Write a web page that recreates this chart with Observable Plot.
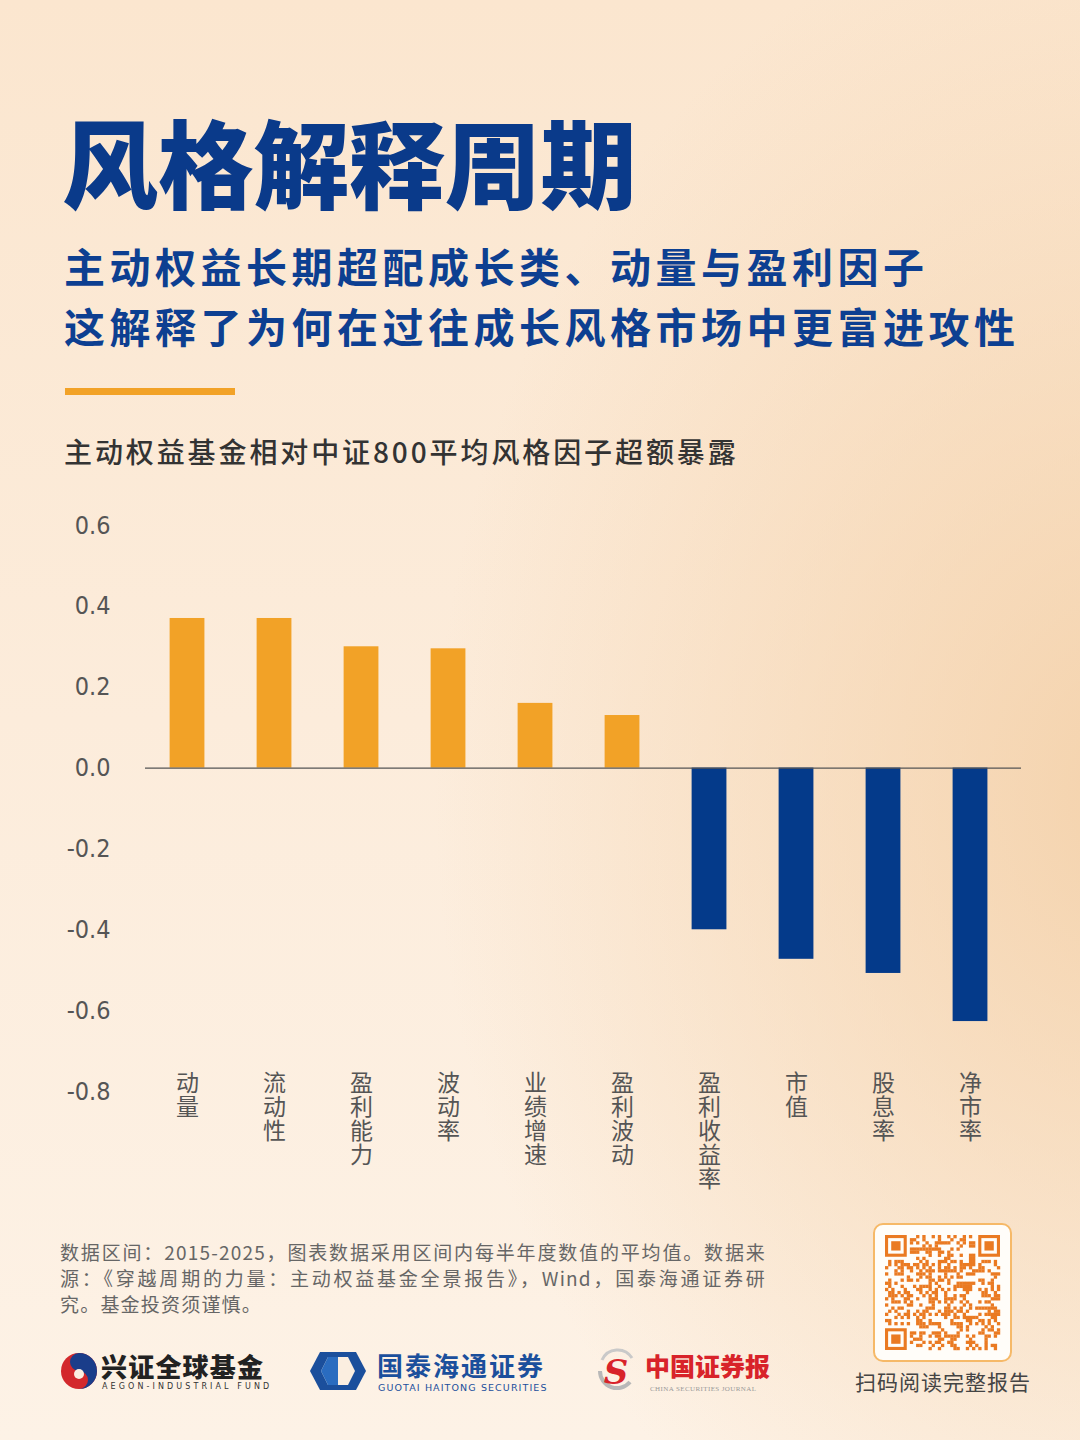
<!DOCTYPE html>
<html>
<head>
<meta charset="utf-8">
<script src="https://cdn.jsdelivr.net/npm/d3@7"></script>
<script src="https://cdn.jsdelivr.net/npm/@observablehq/plot@0.6"></script>
<style>
  html, body { margin: 0; padding: 0; }
  body {
    width: 1080px; height: 1440px; position: relative; overflow: hidden;
    background:
      radial-gradient(ellipse 700px 900px at 105% 55%, rgba(243,206,164,0.85) 0%, rgba(243,206,164,0) 100%),
      linear-gradient(180deg, #fbe6cf 0%, #fcecdb 50%, #fdf2e6 100%);
    font-family: "Noto Sans CJK SC", "Noto Sans", sans-serif;
  }
  .abs { position: absolute; white-space: nowrap; }
  #title { left: 62px; top: 112px; font-size: 96px; line-height: 1; font-weight: 900; color: #0a3a8a; letter-spacing: -0.3px; }
  #subtitle { left: 64px; top: 235px; font-size: 41px; line-height: 60px; font-weight: 700; color: #0d3f91; letter-spacing: 4.5px; }
  #rule { left: 65px; top: 388px; width: 170px; height: 7px; background: #f2a227; }
  #charttitle { left: 64px; top: 433px; font-size: 28px; line-height: 36px; font-weight: 500; color: #333; letter-spacing: 2.9px; }
  #chart { left: 0; top: 500px; }
  #note { left: 60px; top: 1239px; width: 706px; font-size: 19px; line-height: 26px; color: #666; letter-spacing: 1.2px; }
  #note div { text-align: justify; text-align-last: justify; white-space: nowrap; }
  #note div.last { text-align-last: left; }
  #qrbox { left: 873px; top: 1223px; width: 135px; height: 135px; background: #fffdf9; border: 2px solid #f6b968; border-radius: 10px; }
  #qrcap { left: 855px; top: 1366px; font-size: 21px; line-height: 30px; color: #444; letter-spacing: 1px; }
  .logotext { font-weight: 900; font-size: 26px; line-height: 28px; }
  .logosub { font-size: 9px; line-height: 10px; letter-spacing: 2.6px; }
</style>
</head>
<body>
<div id="title" class="abs">风格解释周期</div>
<div id="subtitle" class="abs">主动权益长期超配成长类、动量与盈利因子<br>这解释了为何在过往成长风格市场中更富进攻性</div>
<div id="rule" class="abs"></div>
<div id="charttitle" class="abs">主动权益基金相对中证800平均风格因子超额暴露</div>
<div id="chart" class="abs"></div>
<div id="note" class="abs">
  <div>数据区间：2015-2025，图表数据采用区间内每半年度数值的平均值。数据来</div>
  <div>源：《穿越周期的力量：主动权益基金全景报告》，Wind，国泰海通证券研</div>
  <div class="last">究。基金投资须谨慎。</div>
</div>

<!-- logos -->
<svg class="abs" style="left:58px;top:1350px" width="42" height="42" viewBox="0 0 42 42">
  <circle cx="21" cy="21" r="18" fill="#d3282c"/>
  <path d="M21 3 A18 18 0 0 1 21 39 A9 9 0 0 0 21 21 A9 9 0 0 1 21 3 Z" fill="#1a3d8a"/>
  <circle cx="21" cy="24" r="5" fill="#fbeee0"/>
</svg>
<div class="abs logotext" style="left:101px;top:1352px;color:#222;letter-spacing:1.2px">兴证全球基金</div>
<div class="abs logosub" style="left:102px;top:1382px;color:#333;font-family:'DejaVu Sans';letter-spacing:3.1px;font-size:8px">AEGON-INDUSTRIAL FUND</div>

<svg class="abs" style="left:308px;top:1350px" width="60" height="42" viewBox="0 0 60 42">
  <polygon points="12,2 48,2 58,21 48,40 12,40 2,21" fill="#1b4f9c"/>
  <polygon points="20,7 40,7 47,21 40,35 20,35 13,21" fill="#fbeee0"/>
  <polygon points="20,7 30,7 30,35 20,35 13,21" fill="#2a6cc0"/>
</svg>
<div class="abs logotext" style="left:377px;top:1351px;color:#1b4f9c;letter-spacing:2px;font-weight:700;line-height:27px">国泰海通证券</div>
<div class="abs logosub" style="left:378px;top:1383px;color:#1b4f9c;font-family:'DejaVu Sans';font-size:9.5px;line-height:10px;letter-spacing:1.1px">GUOTAI HAITONG SECURITIES</div>

<svg class="abs" style="left:590px;top:1348px" width="52" height="46" viewBox="0 0 52 46">
  <path d="M10 23 A17 17 0 0 0 40 34" fill="none" stroke="#b8b8b8" stroke-width="4"/>
  <path d="M42 10 A17 17 0 0 0 12 12" fill="none" stroke="#c9c9c9" stroke-width="3"/>
  <text x="26" y="36" text-anchor="middle" font-size="34" font-weight="900" font-style="italic" fill="#d8232a" font-family="DejaVu Serif">S</text>
</svg>
<div class="abs logotext" style="left:645px;top:1351px;color:#d8232a;font-size:25px;letter-spacing:0px">中国证券报</div>
<div class="abs logosub" style="left:650px;top:1384px;color:#999;font-family:'Liberation Serif';font-size:7px;letter-spacing:0.4px">CHINA SECURITIES JOURNAL</div>

<div id="qrbox" class="abs"><svg id="qr" width="135" height="135"></svg></div>
<div id="qrcap" class="abs">扫码阅读完整报告</div>

<script>
// ---- data ----
const categories = ["动量", "流动性", "盈利能力", "波动率", "业绩增速", "盈利波动", "盈利收益率", "市值", "股息率", "净市率"];
const values = [0.37, 0.37, 0.30, 0.295, 0.16, 0.13, -0.40, -0.473, -0.508, -0.627];
const yTicks = [-0.8, -0.6, -0.4, -0.2, 0.0, 0.2, 0.4, 0.6];
const posColor = "#f2a227";
const negColor = "#043a8a";

const data = categories.map((name, i) => ({name, value: values[i]}));
// one record per character of each (vertically stacked) category label
const labelChars = categories.flatMap(name => [...name].map((ch, k) => ({name, ch, k})));
const maxLen = d3.max(categories, c => [...c].length);
const linePitch = 24;

const charMarks = d3.range(maxLen).map(k =>
  Plot.text(labelChars.filter(d => d.k === k), {
    x: "name",
    frameAnchor: "bottom",
    text: "ch",
    textAnchor: "start",
    dy: -21 + k * linePitch,
    fontSize: 23,
    fill: "#555"
  })
);

const chart = Plot.plot({
  width: 1080,
  height: 711,
  marginTop: 25,
  marginBottom: 120,
  marginLeft: 145,
  marginRight: 59,
  style: {background: "transparent", overflow: "visible", fontFamily: "'Noto Sans CJK SC', sans-serif"},
  x: {domain: categories, paddingInner: 0.6, paddingOuter: 0.3345, align: 0.423, round: false, axis: null},
  y: {
    domain: [-0.8, 0.6],
    ticks: yTicks,
    tickFormat: d => d.toFixed(1),
    tickSize: 0,
    tickPadding: 35,
    label: null,
    fontSize: 25
  },
  marks: [
    Plot.barY(data, {x: "name", y: "value", fill: d => d.value >= 0 ? posColor : negColor}),
    Plot.ruleY([0], {stroke: "#555", strokeWidth: 1.2}),
    ...charMarks
  ]
});
// y tick labels: condensed look
chart.querySelectorAll("g[aria-label='y-axis tick label'] text").forEach(t => {
  t.setAttribute("font-size", 25);
  t.setAttribute("fill", "#555");
  t.style.fontFamily = "'Liberation Sans Narrow', 'DejaVu Sans Condensed', sans-serif";
});
const ya = chart.querySelector("g[aria-label='y-axis tick label']");
if (ya) { ya.setAttribute("font-size", 25); ya.setAttribute("fill", "#555"); }
// category label characters: vertical writing so each glyph box is one em tall
chart.querySelectorAll("g[aria-label='text'] text").forEach(t => {
  t.removeAttribute("dy");
  t.removeAttribute("y");
  t.setAttribute("text-anchor", "start");
  t.setAttribute("writing-mode", "vertical-rl");
  t.style.writingMode = "vertical-rl";
  t.style.textOrientation = "upright";
});
document.getElementById("chart").appendChild(chart);

// decorative QR-like pattern
(function () {
  const svg = document.getElementById("qr");
  const n = 37, size = 115, off = 10, m = size / n;
  const ns = "http://www.w3.org/2000/svg";
  const col = "#ea7a22";
  function rect(x, y, w, h, fill) {
    const r = document.createElementNS(ns, "rect");
    r.setAttribute("x", x); r.setAttribute("y", y);
    r.setAttribute("width", w); r.setAttribute("height", h);
    r.setAttribute("fill", fill); svg.appendChild(r);
  }
  function finder(i, j) {
    rect(off + j * m, off + i * m, 7 * m, 7 * m, col);
    rect(off + (j + 1) * m, off + (i + 1) * m, 5 * m, 5 * m, "#fffdf9");
    rect(off + (j + 2) * m, off + (i + 2) * m, 3 * m, 3 * m, col);
  }
  for (let i = 0; i < n; i++) for (let j = 0; j < n; j++) {
    const inF = (i < 8 && j < 8) || (i < 8 && j >= n - 8) || (i >= n - 8 && j < 8);
    if (inF) continue;
    const h = ((i * 73856093) ^ (j * 19349663) ^ (i * j * 83492791)) >>> 0;
    if (h % 5 < 2) rect(off + j * m, off + i * m, m + 0.2, m + 0.2, col);
  }
  finder(0, 0); finder(0, n - 7); finder(n - 7, 0);
})();
</script>
</body>
</html>
